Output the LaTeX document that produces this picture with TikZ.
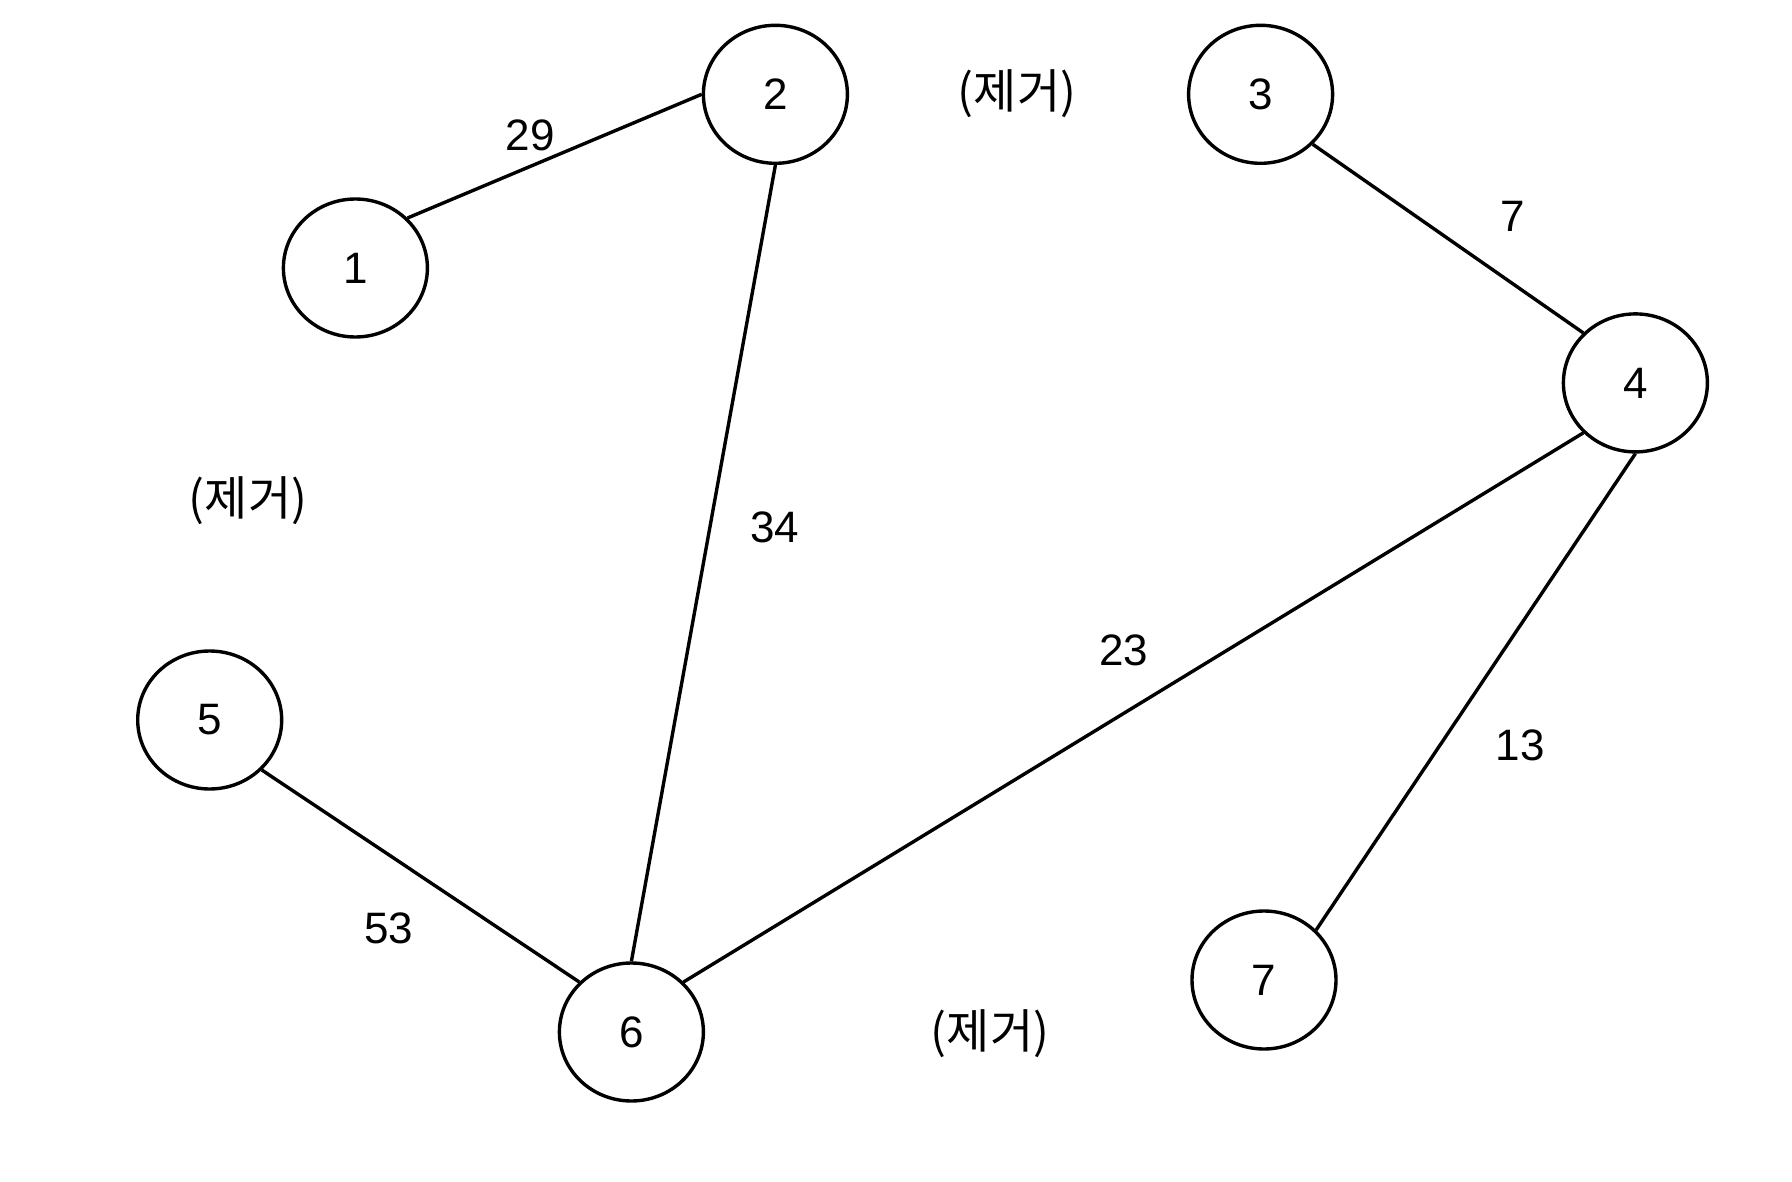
\documentclass[tikz,border=0pt]{standalone}
\usepackage{fontspec}
\setmainfont{Liberation Sans}
\newfontfamily\krfont{Noto Sans CJK KR}
\usetikzlibrary{shapes.geometric}
\begin{document}
\begin{tikzpicture}[x=1pt,y=-1pt,
  vtx/.style={draw,ellipse,line width=3.4pt,minimum width=144pt,minimum height=138pt,inner sep=0pt,font=\fontsize{44}{44}\selectfont},
  wlabel/.style={font=\fontsize{44}{44}\selectfont,inner sep=0pt},
  removed/.style={font=\krfont\fontsize{47}{47}\selectfont,inner sep=0pt},
  edge/.style={line width=3.4pt}]
\useasboundingbox (0,0) rectangle (1792,1182);
\node[vtx] (n1) at (355.4,268) {1};
\node[vtx] (n2) at (775.4,94.3) {2};
\node[vtx] (n3) at (1260.6,94.3) {3};
\node[vtx] (n4) at (1635.4,382.9) {4};
\node[vtx] (n5) at (209.7,720) {5};
\node[vtx] (n6) at (631.4,1032) {6};
\node[vtx] (n7) at (1264,980) {7};
\draw[edge] (n1.north east) -- (n2.west);
\draw[edge] (n2.south) -- (n6.north);
\draw[edge] (n3.south east) -- (n4.north west);
\draw[edge] (n4.south west) -- (n6.north east);
\draw[edge] (n4.south) -- (n7.north east);
\draw[edge] (n5.south east) -- (n6.north west);
\node[wlabel] (l29) at (530.3,134.9) {29};
\node[wlabel] (l34) at (774.9,526.9) {34};
\node[wlabel] (l7) at (1513.2,216) {7};
\node[wlabel] (l23) at (1123.5,650.3) {23};
\node[wlabel] (l13) at (1520,745.2) {13};
\node[wlabel] (l53) at (388.6,928) {53};
\node[removed] (r1) at (1017,94) {(제거)};
\node[removed] (r2) at (248,500.6) {(제거)};
\node[removed] (r3) at (990,1034) {(제거)};
\end{tikzpicture}
\end{document}
